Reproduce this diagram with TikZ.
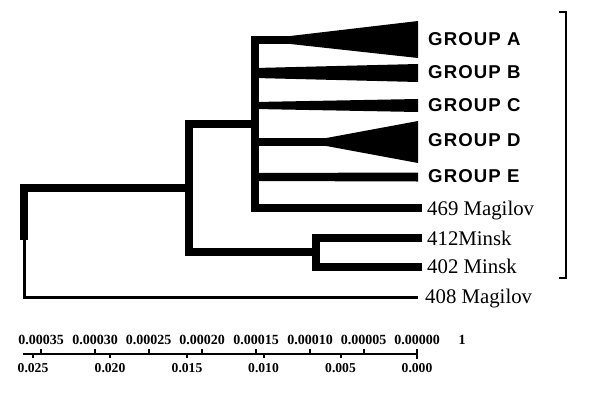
\documentclass[tikz,border=0pt]{standalone}
\usepackage{fontspec}
\setmainfont{Liberation Serif}
\newfontfamily\grpfont[LetterSpace=6]{Liberation Sans}

\tikzset{
    branch/.style={line width=7.5pt, line join=miter, line cap=rect},
    thinbranch/.style={line width=3pt, line join=miter},
    grouplabel/.style={anchor=west, inner sep=0pt, font=\grpfont\fontsize{18.6}{20}\selectfont\bfseries},
    taxonlabel/.style={anchor=base west, inner sep=0pt, font=\fontsize{20.8}{22}\selectfont},
    toplabel/.style={inner sep=0pt, font=\fontsize{14}{15}\selectfont\bfseries},
    botlabel/.style={inner sep=0pt, font=\fontsize{13.6}{15}\selectfont\bfseries},
    scaleline/.style={line width=2pt},
}

\begin{document}
\begin{tikzpicture}[x=1pt,y=-1pt]
                \useasboundingbox (0,0) rectangle (600,397);
                % internal nodes
                \coordinate (inner) at (255,124);
                \coordinate (mid) at (189,188);
                \coordinate (minsk) at (316,252);
                \coordinate (root) at (24,240);
                % branch ends
                \coordinate (aA) at (288,40);
                \coordinate (aB) at (255,73);
                \coordinate (aC) at (255,105.5);
                \coordinate (aD) at (325,142);
                \coordinate (aE) at (255,177);
                \coordinate (bB) at (300,73);
                \coordinate (bC) at (300,105.5);
                \coordinate (bE) at (300,177);
                \coordinate (t469) at (418,208);
                \coordinate (t412) at (418,238);
                \coordinate (t402) at (418,267);
                \coordinate (t408) at (418,297);
                % branches
                \draw[branch] (aA) -| (inner) |- (t469);
                \draw[branch] (aB) -- (bB);
                \draw[branch] (aC) -- (bC);
                \draw[branch] (aE) -- (bE);
                \draw[branch] (inner |- aD) -- (aD);
                \draw[branch] (inner) -| (mid) |- (minsk);
                \draw[branch] (t412) -| (minsk) |- (t402);
                \draw[branch, line cap=butt] (mid) -| (root);
                \draw[thinbranch] (root) |- (t408);
                % collapsed groups
                \fill (288,36.25) -- (418,21) -- (418,58) -- (288,43.75) -- cycle;
                \fill (255,68) -- (418,64) -- (418,82) -- (255,78) -- cycle;
                \fill (255,102) -- (418,99) -- (418,112) -- (255,109) -- cycle;
                \fill (325,138.25) -- (418,121) -- (418,163) -- (325,145.75) -- cycle;
                \fill (255,173) -- (418,172.5) -- (418,181.5) -- (255,181) -- cycle;
                % labels
                \node[grouplabel] (gA) at (428,39.5) {GROUP A};
                \node[grouplabel] (gB) at (428,72.5) {GROUP B};
                \node[grouplabel] (gC) at (428,105.5) {GROUP C};
                \node[grouplabel] (gD) at (428,140.5) {GROUP D};
                \node[grouplabel] (gE) at (428,176.5) {GROUP E};
                \node[taxonlabel] (l469) at (427,215) {469 Magilov};
                \node[taxonlabel] (l412) at (427,245) {412Minsk};
                \node[taxonlabel] (l402) at (427,273.3) {402 Minsk};
                \node[taxonlabel] (l408) at (425,303.3) {408 Magilov};
                % bracket
                \coordinate (brtop) at (559,12);
                \coordinate (brbot) at (559,278);
                \draw[line width=1.2pt] (brtop) -| (566,278) -- (brbot);
                % scale bar
                \coordinate (sleft) at (23,354);
                \coordinate (sright) at (417,354);
                \draw[scaleline] (sleft) -- (sright);
                \draw[scaleline] (417,349) -- (417,359);
                \draw[scaleline] (41,349) -- (41,354);
                \draw[scaleline] (95,349) -- (95,354);
                \draw[scaleline] (148.5,349) -- (148.5,354);
                \draw[scaleline] (202,349) -- (202,354);
                \draw[scaleline] (256,349) -- (256,354);
                \draw[scaleline] (310,349) -- (310,354);
                \draw[scaleline] (363.5,349) -- (363.5,354);
                \draw[scaleline] (33,354) -- (33,358);
                \draw[scaleline] (110,354) -- (110,358);
                \draw[scaleline] (187,354) -- (187,358);
                \draw[scaleline] (263.5,354) -- (263.5,358);
                \draw[scaleline] (340.5,354) -- (340.5,358);
                \node[toplabel] (u1) at (41,340) {0.00035};
                \node[toplabel] (u2) at (95,340) {0.00030};
                \node[toplabel] (u3) at (148.5,340) {0.00025};
                \node[toplabel] (u4) at (202,340) {0.00020};
                \node[toplabel] (u5) at (256,340) {0.00015};
                \node[toplabel] (u6) at (310,340) {0.00010};
                \node[toplabel] (u7) at (363.5,340) {0.00005};
                \node[toplabel] (u8) at (417,340) {0.00000};
                \node[toplabel] (u9) at (462,340) {1};
                \node[botlabel] (d1) at (33,368) {0.025};
                \node[botlabel] (d2) at (110,368) {0.020};
                \node[botlabel] (d3) at (187,368) {0.015};
                \node[botlabel] (d4) at (263.5,368) {0.010};
                \node[botlabel] (d5) at (340.5,368) {0.005};
                \node[botlabel] (d6) at (417,368) {0.000};
\end{tikzpicture}
\end{document}
